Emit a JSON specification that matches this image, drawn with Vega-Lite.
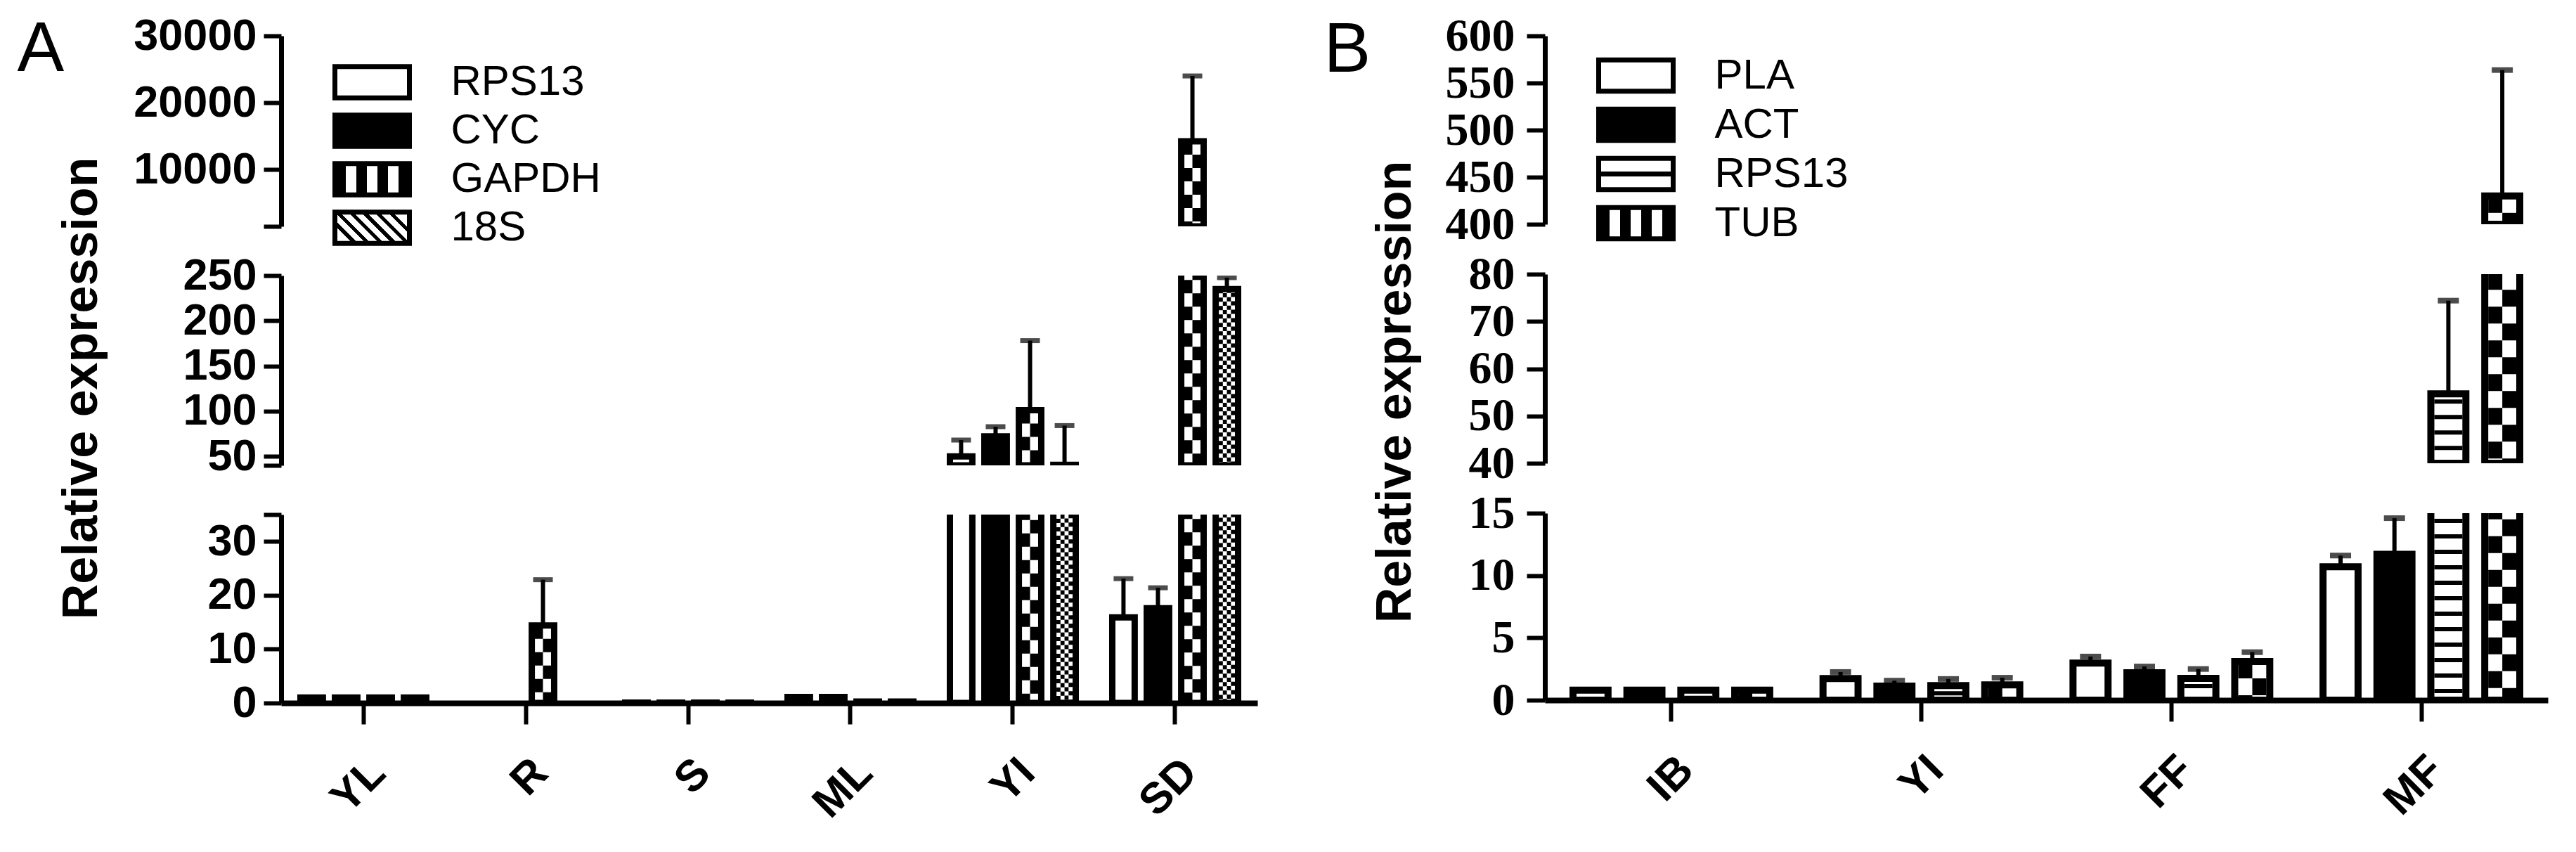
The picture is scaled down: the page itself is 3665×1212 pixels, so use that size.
{
"$schema":"https://vega.github.io/schema/vega-lite/v6.json",
"autosize":{"type":"pad"},
"padding":{"left":24,"top":18,"right":10,"bottom":10},
"background":"white",
"config":{"view":{"stroke":null},"font":"Liberation Sans","axis":{"grid":false,"domainColor":"black","tickColor":"black","labelColor":"black","titleColor":"black","labelOverlap":false,"labelFlush":false,"labelBound":false}},
"datasets":{
"a":[
{"cat":"YL","gene":"RPS13","v":1,"e":1},{"cat":"YL","gene":"CYC","v":1,"e":1},{"cat":"YL","gene":"GAPDH","v":1,"e":1},{"cat":"YL","gene":"18S","v":1,"e":1},
{"cat":"R","gene":"RPS13","v":0,"e":0},{"cat":"R","gene":"CYC","v":0,"e":0},{"cat":"R","gene":"GAPDH","v":14.4,"e":22.9},{"cat":"R","gene":"18S","v":0,"e":0},
{"cat":"S","gene":"RPS13","v":0.05,"e":0.05},{"cat":"S","gene":"CYC","v":0.05,"e":0.05},{"cat":"S","gene":"GAPDH","v":0.05,"e":0.05},{"cat":"S","gene":"18S","v":0.05,"e":0.05},
{"cat":"ML","gene":"RPS13","v":1.1,"e":1.1},{"cat":"ML","gene":"CYC","v":1.1,"e":1.1},{"cat":"ML","gene":"GAPDH","v":0.25,"e":0.25},{"cat":"ML","gene":"18S","v":0.25,"e":0.25},
{"cat":"YI","gene":"RPS13","v":50,"e":68},{"cat":"YI","gene":"CYC","v":72,"e":82.8},{"cat":"YI","gene":"GAPDH","v":101,"e":178},{"cat":"YI","gene":"18S","v":40.5,"e":84},
{"cat":"SD","gene":"RPS13","v":15.9,"e":23.1},{"cat":"SD","gene":"CYC","v":17.6,"e":21.4},{"cat":"SD","gene":"GAPDH","v":14225,"e":24000},{"cat":"SD","gene":"18S","v":235,"e":247.7}
],
"b":[
{"cat":"IB","gene":"PLA","v":0.8,"e":0.8},{"cat":"IB","gene":"ACT","v":0.8,"e":0.8},{"cat":"IB","gene":"RPS13","v":0.8,"e":0.8},{"cat":"IB","gene":"TUB","v":0.8,"e":0.8},
{"cat":"YI","gene":"PLA","v":1.73,"e":2.26},{"cat":"YI","gene":"ACT","v":1.13,"e":1.56},{"cat":"YI","gene":"RPS13","v":1.17,"e":1.7},{"cat":"YI","gene":"TUB","v":1.22,"e":1.8},
{"cat":"FF","gene":"PLA","v":2.98,"e":3.5},{"cat":"FF","gene":"ACT","v":2.2,"e":2.7},{"cat":"FF","gene":"RPS13","v":1.75,"e":2.5},{"cat":"FF","gene":"TUB","v":3.1,"e":3.85},
{"cat":"MF","gene":"PLA","v":10.7,"e":11.6},{"cat":"MF","gene":"ACT","v":11.7,"e":14.6},{"cat":"MF","gene":"RPS13","v":54.7,"e":74.4},{"cat":"MF","gene":"TUB","v":430,"e":563.7}
]
},
"spacing":94,
"bounds":"full",
"resolve":{"scale":{"fill":"independent"},"legend":{"fill":"independent"}},
"hconcat":[
{
"data":{"name":"a"},
"spacing":70,
"bounds":"flush",
"vconcat":[
{
"width":1389,"height":271,
"encoding":{
"x":{"field":"cat","type":"nominal","sort":null,"scale":{"domain":["YL","R","S","ML","YI","SD"],"paddingInner":0.225,"paddingOuter":0.119},"axis":null},
"y":{"field":"v","type":"quantitative","scale":{"domain":[1500,30000],"zero":false,"nice":false},"axis":{"title":"A","titleFont":"Liberation Sans","titleFontSize":100,"titleFontWeight":"normal","titleAngle":0,"titleAlign":"left","titleBaseline":"alphabetic","titleX":-376,"titleY":49,"domainWidth":7,"tickWidth":6,"tickSize":25,"labelFont":"Liberation Sans","labelFontWeight":"bold","labelFontSize":63,"labelPadding":10,"format":"d","values":[1500,10000,20000,30000],"labelExpr":"datum.value == 1500 ? '' : datum.label"}}
},
"resolve":{"scale":{"xOffset":"independent"}},
"layer":[
{"transform":[{"filter":"datum.v > 1500"}],"mark":{"type":"bar","stroke":"black","strokeWidth":9,"clip":true},"encoding":{"xOffset":{"field":"gene","type":"nominal","sort":null,"scale":{"domain":["RPS13","CYC","GAPDH","18S"],"paddingInner":0.35,"paddingOuter":0}},"y2":{"datum":1500},"fill":{"condition":{"test":"datum.gene === 'CYC'","value":"black"},"value":"white"}}},
{"transform":[{"filter":"datum.v > 1500 && datum.gene === 'GAPDH'"}],"mark":{"type":"rule","strokeWidth":11.5,"strokeDash":[19,19],"color":"black","clip":true},"encoding":{"xOffset":{"field":"gene","type":"nominal","sort":null,"scale":{"domain":["RPS13","CYC","GAPDH","18S"],"paddingInner":0.35,"paddingOuter":0,"range":[-5.75,173.25]}},"y2":{"datum":1500}}},
{"transform":[{"filter":"datum.v > 1500 && datum.gene === 'GAPDH'"}],"mark":{"type":"rule","strokeWidth":11.5,"strokeDash":[19,19],"strokeDashOffset":19,"color":"black","clip":true},"encoding":{"xOffset":{"field":"gene","type":"nominal","sort":null,"scale":{"domain":["RPS13","CYC","GAPDH","18S"],"paddingInner":0.35,"paddingOuter":0,"range":[5.75,184.75]}},"y2":{"datum":1500}}},
{"transform":[{"filter":"datum.e > datum.v && datum.e > 1500"}],"mark":{"type":"rule","strokeWidth":6,"color":"black","clip":true},"encoding":{"xOffset":{"field":"gene","type":"nominal","sort":null,"scale":{"domain":["RPS13","CYC","GAPDH","18S"],"paddingInner":0.35,"paddingOuter":0}},"y2":{"field":"e"}}},
{"transform":[{"filter":"datum.e > datum.v && datum.e > 1500"}],"mark":{"type":"tick","orient":"horizontal","size":28,"thickness":7,"color":"black","clip":true},"encoding":{"xOffset":{"field":"gene","type":"nominal","sort":null,"scale":{"domain":["RPS13","CYC","GAPDH","18S"],"paddingInner":0.35,"paddingOuter":0}},
"y":{"field":"e","type":"quantitative","scale":{"domain":[1500,30000],"zero":false,"nice":false},"axis":{"title":"A","titleFont":"Liberation Sans","titleFontSize":100,"titleFontWeight":"normal","titleAngle":0,"titleAlign":"left","titleBaseline":"alphabetic","titleX":-376,"titleY":49,"domainWidth":7,"tickWidth":6,"tickSize":25,"labelFont":"Liberation Sans","labelFontWeight":"bold","labelFontSize":63,"labelPadding":10,"format":"d","values":[1500,10000,20000,30000],"labelExpr":"datum.value == 1500 ? '' : datum.label"}}}},
{"mark":{"type":"point","filled":true,"opacity":0,"clip":true},"encoding":{"fill":{"field":"gene","type":"nominal","scale":{"domain":["RPS13","CYC","GAPDH","18S"],"range":["white","black",
{"expr":"({gradient:'linear',x1:0,y1:0,x2:1,y2:0,stops:[{offset:0,color:'black'},{offset:0.143,color:'black'},{offset:0.143,color:'white'},{offset:0.286,color:'white'},{offset:0.286,color:'black'},{offset:0.429,color:'black'},{offset:0.429,color:'white'},{offset:0.571,color:'white'},{offset:0.571,color:'black'},{offset:0.714,color:'black'},{offset:0.714,color:'white'},{offset:0.857,color:'white'},{offset:0.857,color:'black'},{offset:1,color:'black'}]})"},
{"expr":"({gradient:'linear',x1:0,y1:0.71,x2:1,y2:0.29,stops:[{offset:0,color:'white'},{offset:0.1,color:'white'},{offset:0.1,color:'black'},{offset:0.16,color:'black'},{offset:0.16,color:'white'},{offset:0.25,color:'white'},{offset:0.25,color:'black'},{offset:0.31,color:'black'},{offset:0.31,color:'white'},{offset:0.4,color:'white'},{offset:0.4,color:'black'},{offset:0.46,color:'black'},{offset:0.46,color:'white'},{offset:0.55,color:'white'},{offset:0.55,color:'black'},{offset:0.61,color:'black'},{offset:0.61,color:'white'},{offset:0.7,color:'white'},{offset:0.7,color:'black'},{offset:0.76,color:'black'},{offset:0.76,color:'white'},{offset:0.85,color:'white'},{offset:0.85,color:'black'},{offset:0.91,color:'black'},{offset:0.91,color:'white'},{offset:1,color:'white'}]})"}
]},"legend":{"title":null,"orient":"none","legendX":99.5,"legendY":36,"direction":"vertical","symbolType":"M-2,-0.84H2V0.84H-2Z","symbolSize":2809,"symbolStrokeColor":"black","symbolStrokeWidth":7,"symbolOpacity":1,"labelFont":"Liberation Sans","labelFontSize":60,"labelColor":"black","labelOffset":82,"labelLimit":500,"rowPadding":-5,"padding":0,
"encode":{"symbols":{"update":{"stroke":{"value":"black"},"strokeWidth":{"value":7},"opacity":{"value":1}}}}}}}}
]
},
{
"width":1389,"height":270,
"encoding":{
"x":{"field":"cat","type":"nominal","sort":null,"scale":{"domain":["YL","R","S","ML","YI","SD"],"paddingInner":0.225,"paddingOuter":0.119},"axis":null},
"y":{"field":"v","type":"quantitative","scale":{"domain":[40,250],"zero":false,"nice":false},"axis":{"title":"Relative expression","titleFont":"Liberation Sans","titleFontWeight":"bold","titleFontSize":70,"titleX":-263,"titleY":160,"titleAngle":270,"titleAlign":"center","titleBaseline":"alphabetic","domainWidth":7,"tickWidth":6,"tickSize":25,"labelFont":"Liberation Sans","labelFontWeight":"bold","labelFontSize":63,"labelPadding":10,"format":"d","values":[40,50,100,150,200,250],"labelExpr":"datum.value == 40 ? '' : datum.label"}}
},
"resolve":{"scale":{"xOffset":"independent"}},
"layer":[
{"transform":[{"filter":"datum.v > 40"}],"mark":{"type":"bar","stroke":"black","strokeWidth":9,"clip":true},"encoding":{"xOffset":{"field":"gene","type":"nominal","sort":null,"scale":{"domain":["RPS13","CYC","GAPDH","18S"],"paddingInner":0.35,"paddingOuter":0}},"y2":{"datum":40},"fill":{"condition":{"test":"datum.gene === 'CYC'","value":"black"},"value":"white"}}},
{"transform":[{"filter":"datum.v > 40 && datum.gene === 'GAPDH'"}],"mark":{"type":"rule","strokeWidth":11.5,"strokeDash":[19,19],"color":"black","clip":true},"encoding":{"xOffset":{"field":"gene","type":"nominal","sort":null,"scale":{"domain":["RPS13","CYC","GAPDH","18S"],"paddingInner":0.35,"paddingOuter":0,"range":[-5.75,173.25]}},"y2":{"datum":40}}},
{"transform":[{"filter":"datum.v > 40 && datum.gene === 'GAPDH'"}],"mark":{"type":"rule","strokeWidth":11.5,"strokeDash":[19,19],"strokeDashOffset":19,"color":"black","clip":true},"encoding":{"xOffset":{"field":"gene","type":"nominal","sort":null,"scale":{"domain":["RPS13","CYC","GAPDH","18S"],"paddingInner":0.35,"paddingOuter":0,"range":[5.75,184.75]}},"y2":{"datum":40}}},
{"transform":[{"filter":"datum.v > 40 && datum.gene === '18S'"}],"mark":{"type":"rule","strokeWidth":5.75,"strokeDash":[6,6],"strokeDashOffset":0,"color":"black","clip":true},"encoding":{"xOffset":{"field":"gene","type":"nominal","sort":null,"scale":{"domain":["RPS13","CYC","GAPDH","18S"],"paddingInner":0.35,"paddingOuter":0,"range":[-8.625,170.375]}},"y2":{"datum":40}}},
{"transform":[{"filter":"datum.v > 40 && datum.gene === '18S'"}],"mark":{"type":"rule","strokeWidth":5.75,"strokeDash":[6,6],"strokeDashOffset":6.25,"color":"black","clip":true},"encoding":{"xOffset":{"field":"gene","type":"nominal","sort":null,"scale":{"domain":["RPS13","CYC","GAPDH","18S"],"paddingInner":0.35,"paddingOuter":0,"range":[-2.875,176.125]}},"y2":{"datum":40}}},
{"transform":[{"filter":"datum.v > 40 && datum.gene === '18S'"}],"mark":{"type":"rule","strokeWidth":5.75,"strokeDash":[6,6],"strokeDashOffset":0.5,"color":"black","clip":true},"encoding":{"xOffset":{"field":"gene","type":"nominal","sort":null,"scale":{"domain":["RPS13","CYC","GAPDH","18S"],"paddingInner":0.35,"paddingOuter":0,"range":[2.875,181.875]}},"y2":{"datum":40}}},
{"transform":[{"filter":"datum.v > 40 && datum.gene === '18S'"}],"mark":{"type":"rule","strokeWidth":5.75,"strokeDash":[6,6],"strokeDashOffset":6.75,"color":"black","clip":true},"encoding":{"xOffset":{"field":"gene","type":"nominal","sort":null,"scale":{"domain":["RPS13","CYC","GAPDH","18S"],"paddingInner":0.35,"paddingOuter":0,"range":[8.625,187.625]}},"y2":{"datum":40}}},
{"transform":[{"filter":"datum.e > datum.v && datum.e > 40"}],"mark":{"type":"rule","strokeWidth":6,"color":"black","clip":true},"encoding":{"xOffset":{"field":"gene","type":"nominal","sort":null,"scale":{"domain":["RPS13","CYC","GAPDH","18S"],"paddingInner":0.35,"paddingOuter":0}},"y2":{"field":"e"}}},
{"transform":[{"filter":"datum.e > datum.v && datum.e > 40"}],"mark":{"type":"tick","orient":"horizontal","size":28,"thickness":7,"color":"black","clip":true},"encoding":{"xOffset":{"field":"gene","type":"nominal","sort":null,"scale":{"domain":["RPS13","CYC","GAPDH","18S"],"paddingInner":0.35,"paddingOuter":0}},
"y":{"field":"e","type":"quantitative","scale":{"domain":[40,250],"zero":false,"nice":false},"axis":{"title":"Relative expression","titleFont":"Liberation Sans","titleFontWeight":"bold","titleFontSize":70,"titleX":-263,"titleY":160,"titleAngle":270,"titleAlign":"center","titleBaseline":"alphabetic","domainWidth":7,"tickWidth":6,"tickSize":25,"labelFont":"Liberation Sans","labelFontWeight":"bold","labelFontSize":63,"labelPadding":10,"format":"d","values":[40,50,100,150,200,250],"labelExpr":"datum.value == 40 ? '' : datum.label"}}}}
]
},
{
"width":1389,"height":268,
"encoding":{
"x":{"field":"cat","type":"nominal","sort":null,"scale":{"domain":["YL","R","S","ML","YI","SD"],"paddingInner":0.225,"paddingOuter":0.119},"axis":{"title":null,"labelAngle":-45,"labelFont":"Liberation Sans","labelFontWeight":"bold","labelFontSize":62,"labelPadding":38,"domainWidth":8,"tickWidth":6,"tickSize":30}},
"y":{"field":"v","type":"quantitative","scale":{"domain":[0,35],"zero":false,"nice":false},"axis":{"title":null,"domainWidth":7,"tickWidth":6,"tickSize":25,"labelFont":"Liberation Sans","labelFontWeight":"bold","labelFontSize":63,"labelPadding":10,"format":"d","values":[0,10,20,30,35],"labelExpr":"datum.value == 35 ? '' : datum.label"}}
},
"resolve":{"scale":{"xOffset":"independent"}},
"layer":[
{"transform":[{"filter":"datum.v > 0"}],"mark":{"type":"bar","stroke":"black","strokeWidth":9,"clip":true},"encoding":{"xOffset":{"field":"gene","type":"nominal","sort":null,"scale":{"domain":["RPS13","CYC","GAPDH","18S"],"paddingInner":0.35,"paddingOuter":0}},"y2":{"datum":0},"fill":{"condition":{"test":"datum.gene === 'CYC'","value":"black"},"value":"white"}}},
{"transform":[{"filter":"datum.v > 0 && datum.gene === 'GAPDH'"}],"mark":{"type":"rule","strokeWidth":11.5,"strokeDash":[19,19],"color":"black","clip":true},"encoding":{"xOffset":{"field":"gene","type":"nominal","sort":null,"scale":{"domain":["RPS13","CYC","GAPDH","18S"],"paddingInner":0.35,"paddingOuter":0,"range":[-5.75,173.25]}},"y2":{"datum":0}}},
{"transform":[{"filter":"datum.v > 0 && datum.gene === 'GAPDH'"}],"mark":{"type":"rule","strokeWidth":11.5,"strokeDash":[19,19],"strokeDashOffset":19,"color":"black","clip":true},"encoding":{"xOffset":{"field":"gene","type":"nominal","sort":null,"scale":{"domain":["RPS13","CYC","GAPDH","18S"],"paddingInner":0.35,"paddingOuter":0,"range":[5.75,184.75]}},"y2":{"datum":0}}},
{"transform":[{"filter":"datum.v > 0 && datum.gene === '18S'"}],"mark":{"type":"rule","strokeWidth":5.75,"strokeDash":[6,6],"strokeDashOffset":0,"color":"black","clip":true},"encoding":{"xOffset":{"field":"gene","type":"nominal","sort":null,"scale":{"domain":["RPS13","CYC","GAPDH","18S"],"paddingInner":0.35,"paddingOuter":0,"range":[-8.625,170.375]}},"y2":{"datum":0}}},
{"transform":[{"filter":"datum.v > 0 && datum.gene === '18S'"}],"mark":{"type":"rule","strokeWidth":5.75,"strokeDash":[6,6],"strokeDashOffset":6.25,"color":"black","clip":true},"encoding":{"xOffset":{"field":"gene","type":"nominal","sort":null,"scale":{"domain":["RPS13","CYC","GAPDH","18S"],"paddingInner":0.35,"paddingOuter":0,"range":[-2.875,176.125]}},"y2":{"datum":0}}},
{"transform":[{"filter":"datum.v > 0 && datum.gene === '18S'"}],"mark":{"type":"rule","strokeWidth":5.75,"strokeDash":[6,6],"strokeDashOffset":0.5,"color":"black","clip":true},"encoding":{"xOffset":{"field":"gene","type":"nominal","sort":null,"scale":{"domain":["RPS13","CYC","GAPDH","18S"],"paddingInner":0.35,"paddingOuter":0,"range":[2.875,181.875]}},"y2":{"datum":0}}},
{"transform":[{"filter":"datum.v > 0 && datum.gene === '18S'"}],"mark":{"type":"rule","strokeWidth":5.75,"strokeDash":[6,6],"strokeDashOffset":6.75,"color":"black","clip":true},"encoding":{"xOffset":{"field":"gene","type":"nominal","sort":null,"scale":{"domain":["RPS13","CYC","GAPDH","18S"],"paddingInner":0.35,"paddingOuter":0,"range":[8.625,187.625]}},"y2":{"datum":0}}},
{"transform":[{"filter":"datum.e > datum.v && datum.e > 0"}],"mark":{"type":"rule","strokeWidth":6,"color":"black","clip":true},"encoding":{"xOffset":{"field":"gene","type":"nominal","sort":null,"scale":{"domain":["RPS13","CYC","GAPDH","18S"],"paddingInner":0.35,"paddingOuter":0}},"y2":{"field":"e"}}},
{"transform":[{"filter":"datum.e > datum.v && datum.e > 0"}],"mark":{"type":"tick","orient":"horizontal","size":28,"thickness":7,"color":"black","clip":true},"encoding":{"xOffset":{"field":"gene","type":"nominal","sort":null,"scale":{"domain":["RPS13","CYC","GAPDH","18S"],"paddingInner":0.35,"paddingOuter":0}},
"y":{"field":"e","type":"quantitative","scale":{"domain":[0,35],"zero":false,"nice":false},"axis":{"title":null,"domainWidth":7,"tickWidth":6,"tickSize":25,"labelFont":"Liberation Sans","labelFontWeight":"bold","labelFontSize":63,"labelPadding":10,"format":"d","values":[0,10,20,30,35],"labelExpr":"datum.value == 35 ? '' : datum.label"}}}}
]
}
]
},
{
"data":{"name":"b"},
"spacing":71,
"bounds":"flush",
"vconcat":[
{
"width":1427,"height":268,
"encoding":{
"x":{"field":"cat","type":"nominal","sort":null,"scale":{"domain":["IB","YI","FF","MF"],"paddingInner":0.213,"paddingOuter":0.1124},"axis":null},
"y":{"field":"v","type":"quantitative","scale":{"domain":[400,600],"zero":false,"nice":false},"axis":{"title":"B","titleFont":"Liberation Sans","titleFontSize":100,"titleFontWeight":"normal","titleAngle":0,"titleAlign":"left","titleBaseline":"alphabetic","titleX":-315,"titleY":50,"domainWidth":7,"tickWidth":6,"tickSize":26,"labelFont":"Liberation Serif","labelFontWeight":"bold","labelFontSize":66,"labelPadding":17,"format":"d","values":[400,450,500,550,600]}}
},
"resolve":{"scale":{"xOffset":"independent"}},
"layer":[
{"transform":[{"filter":"datum.v > 400"}],"mark":{"type":"bar","stroke":"black","strokeWidth":10,"clip":true},"encoding":{"xOffset":{"field":"gene","type":"nominal","sort":null,"scale":{"domain":["PLA","ACT","RPS13","TUB"],"paddingInner":0.35,"paddingOuter":0}},"y2":{"datum":400},"fill":{"condition":{"test":"datum.gene === 'ACT'","value":"black"},"value":"white"}}},
{"transform":[{"filter":"datum.v > 400 && datum.gene === 'RPS13'"}],"mark":{"type":"rule","strokeWidth":40,"strokeDash":[6,16],"strokeDashOffset":-8,"color":"black","clip":true},"encoding":{"xOffset":{"field":"gene","type":"nominal","sort":null,"scale":{"domain":["PLA","ACT","RPS13","TUB"],"paddingInner":0.35,"paddingOuter":0}},"y2":{"datum":400}}},
{"transform":[{"filter":"datum.v > 400 && datum.gene === 'TUB'"}],"mark":{"type":"rule","strokeWidth":20,"strokeDash":[24,24],"color":"black","clip":true},"encoding":{"xOffset":{"field":"gene","type":"nominal","sort":null,"scale":{"domain":["PLA","ACT","RPS13","TUB"],"paddingInner":0.35,"paddingOuter":0,"range":[-10,270]}},"y2":{"datum":400}}},
{"transform":[{"filter":"datum.v > 400 && datum.gene === 'TUB'"}],"mark":{"type":"rule","strokeWidth":20,"strokeDash":[24,24],"strokeDashOffset":24,"color":"black","clip":true},"encoding":{"xOffset":{"field":"gene","type":"nominal","sort":null,"scale":{"domain":["PLA","ACT","RPS13","TUB"],"paddingInner":0.35,"paddingOuter":0,"range":[10,290]}},"y2":{"datum":400}}},
{"transform":[{"filter":"datum.e > datum.v && datum.e > 400"}],"mark":{"type":"rule","strokeWidth":6,"color":"black","clip":true},"encoding":{"xOffset":{"field":"gene","type":"nominal","sort":null,"scale":{"domain":["PLA","ACT","RPS13","TUB"],"paddingInner":0.35,"paddingOuter":0}},"y2":{"field":"e"}}},
{"transform":[{"filter":"datum.e > datum.v && datum.e > 400"}],"mark":{"type":"tick","orient":"horizontal","size":30,"thickness":8,"color":"black","clip":true},"encoding":{"xOffset":{"field":"gene","type":"nominal","sort":null,"scale":{"domain":["PLA","ACT","RPS13","TUB"],"paddingInner":0.35,"paddingOuter":0}},
"y":{"field":"e","type":"quantitative","scale":{"domain":[400,600],"zero":false,"nice":false},"axis":{"title":"B","titleFont":"Liberation Sans","titleFontSize":100,"titleFontWeight":"normal","titleAngle":0,"titleAlign":"left","titleBaseline":"alphabetic","titleX":-315,"titleY":50,"domainWidth":7,"tickWidth":6,"tickSize":26,"labelFont":"Liberation Serif","labelFontWeight":"bold","labelFontSize":66,"labelPadding":17,"format":"d","values":[400,450,500,550,600]}}}},
{"mark":{"type":"point","filled":true,"opacity":0,"clip":true},"encoding":{"fill":{"field":"gene","type":"nominal","scale":{"domain":["PLA","ACT","RPS13","TUB"],"range":["white","black",
{"expr":"({gradient:'linear',x1:0,y1:0,x2:0,y2:1,stops:[{offset:0,color:'white'},{offset:0.42,color:'white'},{offset:0.42,color:'black'},{offset:0.58,color:'black'},{offset:0.58,color:'white'},{offset:1,color:'white'}]})"},
{"expr":"({gradient:'linear',x1:0,y1:0,x2:1,y2:0,stops:[{offset:0,color:'black'},{offset:0.143,color:'black'},{offset:0.143,color:'white'},{offset:0.286,color:'white'},{offset:0.286,color:'black'},{offset:0.429,color:'black'},{offset:0.429,color:'white'},{offset:0.571,color:'white'},{offset:0.571,color:'black'},{offset:0.714,color:'black'},{offset:0.714,color:'white'},{offset:0.857,color:'white'},{offset:0.857,color:'black'},{offset:1,color:'black'}]})"}
]},"legend":{"title":null,"orient":"none","legendX":99.5,"legendY":26.5,"direction":"vertical","symbolType":"M-2,-0.84H2V0.84H-2Z","symbolSize":2809,"symbolStrokeColor":"black","symbolStrokeWidth":7,"symbolOpacity":1,"labelFont":"Liberation Sans","labelFontSize":60,"labelColor":"black","labelOffset":82,"labelLimit":500,"rowPadding":-4,"padding":0,
"encode":{"symbols":{"update":{"stroke":{"value":"black"},"strokeWidth":{"value":7},"opacity":{"value":1}}}}}}}}
]
},
{
"width":1427,"height":269,
"encoding":{
"x":{"field":"cat","type":"nominal","sort":null,"scale":{"domain":["IB","YI","FF","MF"],"paddingInner":0.213,"paddingOuter":0.1124},"axis":null},
"y":{"field":"v","type":"quantitative","scale":{"domain":[40,80],"zero":false,"nice":false},"axis":{"title":"Relative expression","titleFont":"Liberation Sans","titleFontWeight":"bold","titleFontSize":70,"titleX":-192,"titleY":167,"titleAngle":270,"titleAlign":"center","titleBaseline":"alphabetic","domainWidth":7,"tickWidth":6,"tickSize":26,"labelFont":"Liberation Serif","labelFontWeight":"bold","labelFontSize":66,"labelPadding":17,"format":"d","values":[40,50,60,70,80]}}
},
"resolve":{"scale":{"xOffset":"independent"}},
"layer":[
{"transform":[{"filter":"datum.v > 40"}],"mark":{"type":"bar","stroke":"black","strokeWidth":10,"clip":true},"encoding":{"xOffset":{"field":"gene","type":"nominal","sort":null,"scale":{"domain":["PLA","ACT","RPS13","TUB"],"paddingInner":0.35,"paddingOuter":0}},"y2":{"datum":40},"fill":{"condition":{"test":"datum.gene === 'ACT'","value":"black"},"value":"white"}}},
{"transform":[{"filter":"datum.v > 40 && datum.gene === 'RPS13'"}],"mark":{"type":"rule","strokeWidth":40,"strokeDash":[6,16],"strokeDashOffset":-8,"color":"black","clip":true},"encoding":{"xOffset":{"field":"gene","type":"nominal","sort":null,"scale":{"domain":["PLA","ACT","RPS13","TUB"],"paddingInner":0.35,"paddingOuter":0}},"y2":{"datum":40}}},
{"transform":[{"filter":"datum.v > 40 && datum.gene === 'TUB'"}],"mark":{"type":"rule","strokeWidth":20,"strokeDash":[24,24],"color":"black","clip":true},"encoding":{"xOffset":{"field":"gene","type":"nominal","sort":null,"scale":{"domain":["PLA","ACT","RPS13","TUB"],"paddingInner":0.35,"paddingOuter":0,"range":[-10,270]}},"y2":{"datum":40}}},
{"transform":[{"filter":"datum.v > 40 && datum.gene === 'TUB'"}],"mark":{"type":"rule","strokeWidth":20,"strokeDash":[24,24],"strokeDashOffset":24,"color":"black","clip":true},"encoding":{"xOffset":{"field":"gene","type":"nominal","sort":null,"scale":{"domain":["PLA","ACT","RPS13","TUB"],"paddingInner":0.35,"paddingOuter":0,"range":[10,290]}},"y2":{"datum":40}}},
{"transform":[{"filter":"datum.e > datum.v && datum.e > 40"}],"mark":{"type":"rule","strokeWidth":6,"color":"black","clip":true},"encoding":{"xOffset":{"field":"gene","type":"nominal","sort":null,"scale":{"domain":["PLA","ACT","RPS13","TUB"],"paddingInner":0.35,"paddingOuter":0}},"y2":{"field":"e"}}},
{"transform":[{"filter":"datum.e > datum.v && datum.e > 40"}],"mark":{"type":"tick","orient":"horizontal","size":30,"thickness":8,"color":"black","clip":true},"encoding":{"xOffset":{"field":"gene","type":"nominal","sort":null,"scale":{"domain":["PLA","ACT","RPS13","TUB"],"paddingInner":0.35,"paddingOuter":0}},
"y":{"field":"e","type":"quantitative","scale":{"domain":[40,80],"zero":false,"nice":false},"axis":{"title":"Relative expression","titleFont":"Liberation Sans","titleFontWeight":"bold","titleFontSize":70,"titleX":-192,"titleY":167,"titleAngle":270,"titleAlign":"center","titleBaseline":"alphabetic","domainWidth":7,"tickWidth":6,"tickSize":26,"labelFont":"Liberation Serif","labelFontWeight":"bold","labelFontSize":66,"labelPadding":17,"format":"d","values":[40,50,60,70,80]}}}}
]
},
{
"width":1427,"height":266,
"encoding":{
"x":{"field":"cat","type":"nominal","sort":null,"scale":{"domain":["IB","YI","FF","MF"],"paddingInner":0.213,"paddingOuter":0.1124},"axis":{"title":null,"labelAngle":-45,"labelFont":"Liberation Sans","labelFontWeight":"bold","labelFontSize":62,"labelPadding":38,"domainWidth":8,"tickWidth":6,"tickSize":30}},
"y":{"field":"v","type":"quantitative","scale":{"domain":[0,15],"zero":false,"nice":false},"axis":{"title":null,"domainWidth":7,"tickWidth":6,"tickSize":26,"labelFont":"Liberation Serif","labelFontWeight":"bold","labelFontSize":66,"labelPadding":17,"format":"d","values":[0,5,10,15]}}
},
"resolve":{"scale":{"xOffset":"independent"}},
"layer":[
{"transform":[{"filter":"datum.v > 0"}],"mark":{"type":"bar","stroke":"black","strokeWidth":10,"clip":true},"encoding":{"xOffset":{"field":"gene","type":"nominal","sort":null,"scale":{"domain":["PLA","ACT","RPS13","TUB"],"paddingInner":0.35,"paddingOuter":0}},"y2":{"datum":0},"fill":{"condition":{"test":"datum.gene === 'ACT'","value":"black"},"value":"white"}}},
{"transform":[{"filter":"datum.v > 0 && datum.gene === 'RPS13'"}],"mark":{"type":"rule","strokeWidth":40,"strokeDash":[6,16],"strokeDashOffset":-8,"color":"black","clip":true},"encoding":{"xOffset":{"field":"gene","type":"nominal","sort":null,"scale":{"domain":["PLA","ACT","RPS13","TUB"],"paddingInner":0.35,"paddingOuter":0}},"y2":{"datum":0}}},
{"transform":[{"filter":"datum.v > 0 && datum.gene === 'TUB'"}],"mark":{"type":"rule","strokeWidth":20,"strokeDash":[24,24],"color":"black","clip":true},"encoding":{"xOffset":{"field":"gene","type":"nominal","sort":null,"scale":{"domain":["PLA","ACT","RPS13","TUB"],"paddingInner":0.35,"paddingOuter":0,"range":[-10,270]}},"y2":{"datum":0}}},
{"transform":[{"filter":"datum.v > 0 && datum.gene === 'TUB'"}],"mark":{"type":"rule","strokeWidth":20,"strokeDash":[24,24],"strokeDashOffset":24,"color":"black","clip":true},"encoding":{"xOffset":{"field":"gene","type":"nominal","sort":null,"scale":{"domain":["PLA","ACT","RPS13","TUB"],"paddingInner":0.35,"paddingOuter":0,"range":[10,290]}},"y2":{"datum":0}}},
{"transform":[{"filter":"datum.e > datum.v && datum.e > 0"}],"mark":{"type":"rule","strokeWidth":6,"color":"black","clip":true},"encoding":{"xOffset":{"field":"gene","type":"nominal","sort":null,"scale":{"domain":["PLA","ACT","RPS13","TUB"],"paddingInner":0.35,"paddingOuter":0}},"y2":{"field":"e"}}},
{"transform":[{"filter":"datum.e > datum.v && datum.e > 0"}],"mark":{"type":"tick","orient":"horizontal","size":30,"thickness":8,"color":"black","clip":true},"encoding":{"xOffset":{"field":"gene","type":"nominal","sort":null,"scale":{"domain":["PLA","ACT","RPS13","TUB"],"paddingInner":0.35,"paddingOuter":0}},
"y":{"field":"e","type":"quantitative","scale":{"domain":[0,15],"zero":false,"nice":false},"axis":{"title":null,"domainWidth":7,"tickWidth":6,"tickSize":26,"labelFont":"Liberation Serif","labelFontWeight":"bold","labelFontSize":66,"labelPadding":17,"format":"d","values":[0,5,10,15]}}}}
]
}
]
}
]
}
